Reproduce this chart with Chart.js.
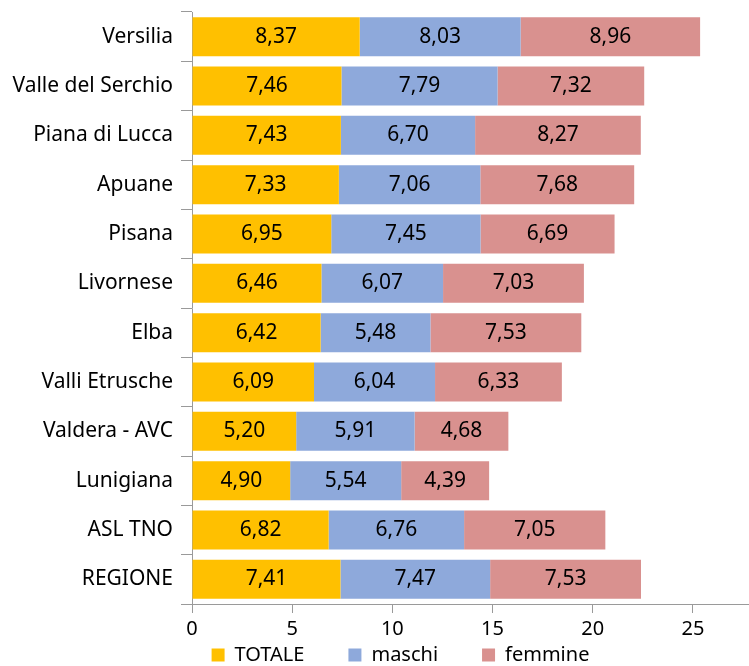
<!DOCTYPE html>
<html>
<head>
<meta charset="utf-8">
<script src="https://cdn.jsdelivr.net/npm/chart.js@4"></script>
<style>
  html, body { margin: 0; padding: 0; background: #fff; }
  #wrap { width: 749px; height: 666px; }
</style>
</head>
<body>
<div id="wrap"><canvas id="barChart"></canvas></div>
<script>
// dati
const zone = ['Versilia', 'Valle del Serchio', 'Piana di Lucca', 'Apuane', 'Pisana', 'Livornese',
  'Elba', 'Valli Etrusche', 'Valdera - AVC', 'Lunigiana', 'ASL TNO', 'REGIONE'];
const totale = [8.37, 7.46, 7.43, 7.33, 6.95, 6.46, 6.42, 6.09, 5.20, 4.90, 6.82, 7.41];
const maschi = [8.03, 7.79, 6.70, 7.06, 7.45, 6.07, 5.48, 6.04, 5.91, 5.54, 6.76, 7.47];
const femmine = [8.96, 7.32, 8.27, 7.68, 6.69, 7.03, 7.53, 6.33, 4.68, 4.39, 7.05, 7.53];
const xTicks = [0, 5, 10, 15, 20, 25];

const FONT = '"Noto Sans", "DejaVu Sans", sans-serif';
const GRIGIO = '#9a9a9a';

// etichette dentro le barre, con la virgola decimale
const etichette = {
  id: 'etichette',
  afterDatasetsDraw(chart) {
    const ctx = chart.ctx;
    ctx.save();
    ctx.font = '21px ' + FONT;
    ctx.fillStyle = '#000';
    ctx.textAlign = 'center';
    ctx.textBaseline = 'middle';
    chart.data.datasets.forEach((ds, i) => {
      chart.getDatasetMeta(i).data.forEach((bar, j) => {
        const p = bar.getCenterPoint();
        ctx.fillText(ds.data[j].toFixed(2).replace('.', ','), p.x, p.y);
      });
    });
    ctx.restore();
  }
};

// legenda: altezza fissa e un po' spostata, come nell'originale
const legendaFissa = {
  id: 'legendaFissa',
  beforeLayout(chart) {
    const leg = chart.legend;
    if (leg && !leg._fitFisso) {
      const fit = leg.fit;
      leg.fit = function () { fit.call(this); this.height = 24; };
      leg._fitFisso = true;
    }
  },
  afterLayout(chart) {
    const leg = chart.legend;
    leg.top = leg.bottom - 65;
    leg.left += 26; leg.right += 26;
  }
};

new Chart(document.getElementById('barChart'), {
  type: 'bar',
  data: {
    labels: zone,
    datasets: [
      { label: 'TOTALE', data: totale, backgroundColor: '#FFC000' },
      { label: 'maschi', data: maschi, backgroundColor: '#8EA9DB' },
      { label: 'femmine', data: femmine, backgroundColor: '#D9918F' }
    ]
  },
  options: {
    indexAxis: 'y',
    responsive: true,
    maintainAspectRatio: false,
    animation: false,
    layout: { padding: { top: 12, right: 0, bottom: 0, left: 0 } },
    datasets: { bar: { barPercentage: 0.79, categoryPercentage: 1, borderWidth: 0 } },
    scales: {
      x: {
        stacked: true,
        min: 0,
        max: 27.8,
        afterBuildTicks: axis => { axis.ticks = xTicks.map(v => ({ value: v })); },
        afterFit: scale => { scale.height = 38; scale.paddingLeft = 0; scale.paddingRight = 0; },
        border: { display: true, color: GRIGIO, width: 1 },
        grid: { drawOnChartArea: false, drawTicks: true, tickLength: 9, color: GRIGIO },
        ticks: { color: '#000', font: { family: FONT, size: 20 }, padding: 4, maxRotation: 0 }
      },
      y: {
        stacked: true,
        afterFit: scale => { scale.width = 192; scale.paddingTop = 0; scale.paddingBottom = 0; },
        border: { display: true, color: GRIGIO, width: 1 },
        grid: { offset: true, drawOnChartArea: false, drawTicks: true, tickLength: 11, color: GRIGIO },
        ticks: { color: '#000', font: { family: FONT, size: 21 }, padding: 8 }
      }
    },
    plugins: {
      legend: {
        position: 'bottom',
        labels: {
          boxWidth: 13,
          boxHeight: 13,
          padding: 44,
          color: '#000',
          font: { family: FONT, size: 20 }
        }
      },
      tooltip: { enabled: false }
    }
  },
  plugins: [etichette, legendaFissa]
});
</script>
</body>
</html>
